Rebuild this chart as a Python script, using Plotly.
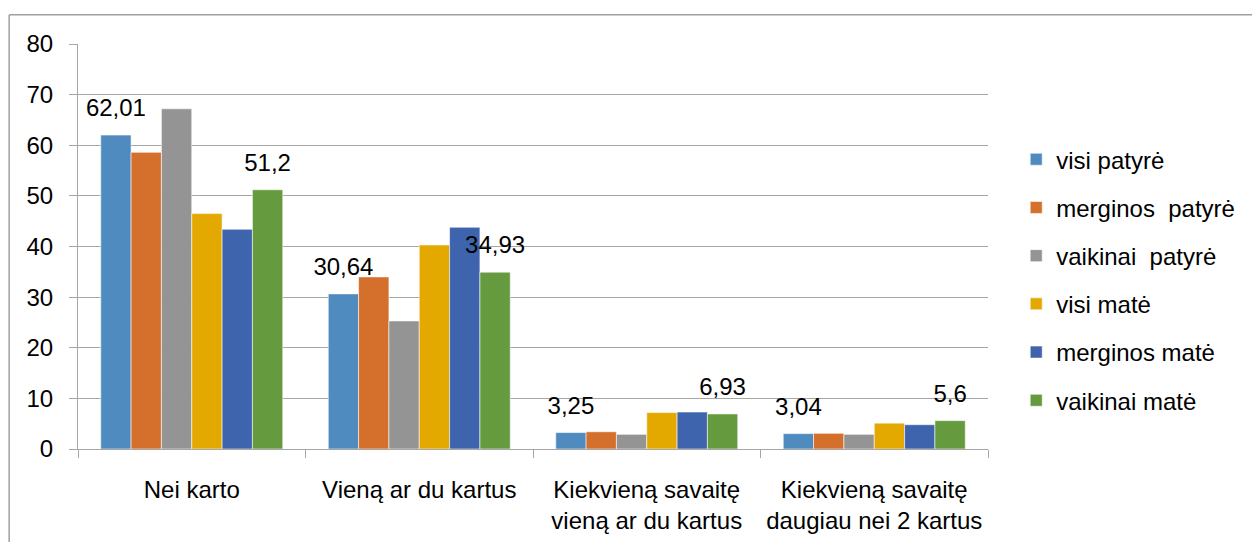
import plotly.graph_objects as go

categories = ["Nei karto", "Vieną ar du kartus", "Kiekvieną savaitę<br>vieną ar du kartus",
              "Kiekvieną savaitę<br>daugiau nei 2 kartus"]
series_names = ["visi patyrė", "merginos\u00a0 patyrė", "vaikinai\u00a0 patyrė",
                "visi matė", "merginos matė", "vaikinai matė"]
visi_patyre = [62.01, 30.64, 3.25, 3.04]
merginos_patyre = [58.6, 34.0, 3.4, 3.1]
vaikinai_patyre = [67.2, 25.3, 2.9, 2.9]
visi_mate = [46.5, 40.3, 7.2, 5.1]
merginos_mate = [43.4, 43.8, 7.3, 4.8]
vaikinai_mate = [51.2, 34.93, 6.93, 5.6]
labelled = [True, False, False, False, False, True]
y_ticks = [0, 10, 20, 30, 40, 50, 60, 70, 80]

colors = ["#4F8BBF", "#D46F2C", "#949494", "#E3A900", "#3D64AD", "#659A3F"]
all_series = [visi_patyre, merginos_patyre, vaikinai_patyre, visi_mate, merginos_mate, vaikinai_mate]

FONT = "Liberation Sans"
FS = 24
GRID = "#A6A6A6"

fig = go.Figure()
for i, (name, vals) in enumerate(zip(series_names, all_series)):
    fig.add_trace(go.Bar(
        x=categories, y=vals, name=name, legendgroup=f"g{i}",
        marker=dict(color=colors[i], line=dict(color="rgba(255,255,255,0.8)", width=0.7)),
        hoverinfo="skip",
    ))
# data labels via grouped scatter traces (aligned with the bars)
for i, vals in enumerate(all_series):
    texts = [str(v).replace(".", ",") if labelled[i] else "" for v in vals]
    fig.add_trace(go.Scatter(
        x=categories, y=vals, mode="markers+text", text=texts,
        textposition="top center", orientation="v",
        textfont=dict(family=FONT, size=FS, color="#000000"),
        marker=dict(size=19, color="rgba(0,0,0,0)"),
        showlegend=False, hoverinfo="skip", cliponaxis=False,
    ))

W, H = 1252, 542
ML, MR, MT, MB = 78, 262, 44, 93
pw, ph = W - ML - MR, H - MT - MB
bx = (9 - ML) / pw
by = 1 + (MT - 14.7) / ph

fig.update_layout(
    width=W, height=H,
    margin=dict(l=ML, r=MR, t=MT, b=MB, pad=0),
    paper_bgcolor="white", plot_bgcolor="white",
    barmode="group", bargap=0.2, bargroupgap=0,
    scattermode="group", scattergap=0.2,
    font=dict(family=FONT, size=FS, color="#000000"),
    showlegend=True,
    legend=dict(x=1.031, xanchor="left", y=0.77, yanchor="top",
                font=dict(family=FONT, size=FS, color="#000000"),
                traceorder="grouped", tracegroupgap=14, itemwidth=30,
                bgcolor="rgba(0,0,0,0)"),
    xaxis=dict(type="category", showgrid=False, showline=True, linecolor=GRID, linewidth=1,
               ticks="outside", tickson="boundaries", ticklen=8, tickcolor=GRID,
               ticklabelstandoff=19, automargin=False, tickfont=dict(family=FONT, size=FS)),
    yaxis=dict(range=[0, 80], tickvals=y_ticks, showgrid=True, gridcolor=GRID, gridwidth=1,
               showline=True, linecolor=GRID, linewidth=1, zeroline=False,
               ticks="outside", ticklen=8, tickcolor=GRID, ticklabelstandoff=11,
               automargin=False, tickfont=dict(family=FONT, size=FS)),
    shapes=[
        dict(type="line", xref="paper", yref="paper", x0=bx, x1=2, y0=by, y1=by,
             line=dict(color="#A0A0A0", width=1.5)),
        dict(type="line", xref="paper", yref="paper", x0=bx, x1=bx, y0=by, y1=-1,
             line=dict(color="#A0A0A0", width=1.5)),
    ],
)

fig.write_html("out.html", config={"displayModeBar": False},
               post_script="document.body.style.margin='0';document.body.style.padding='0';")
